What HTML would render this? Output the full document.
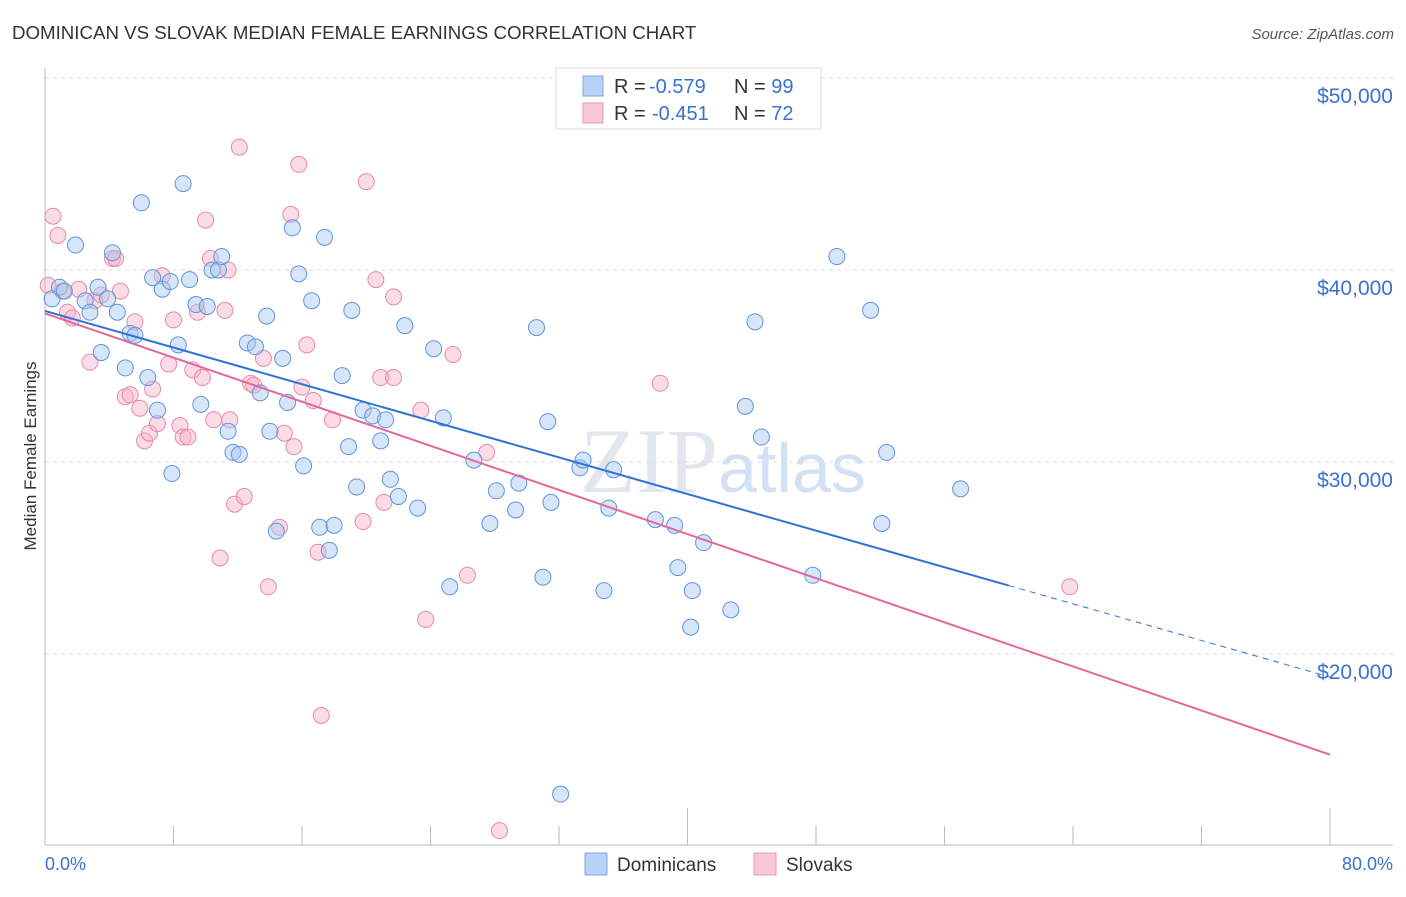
<!DOCTYPE html>
<html><head><meta charset="utf-8">
<style>
html,body{margin:0;padding:0;background:#fff;}
body{width:1406px;height:892px;overflow:hidden;font-family:"Liberation Sans",sans-serif;}
</style></head>
<body>
<svg id="chart" width="1406" height="892" xmlns="http://www.w3.org/2000/svg">
<text x="12" y="39" font-size="18.7" fill="#333">DOMINICAN VS SLOVAK MEDIAN FEMALE EARNINGS CORRELATION CHART</text>
<text x="1394" y="39" font-size="15" fill="#555" font-style="italic" text-anchor="end">Source: ZipAtlas.com</text>
<text x="718" y="492" font-size="92" fill="#e2e7ee" font-family="Liberation Serif,serif" text-anchor="end">ZIP</text>
<text x="718" y="492" font-size="70" fill="#d3e1f4">atlas</text>
<g id="grid"></g>
<g id="axes"></g>
<g id="pts"></g>
<g id="lines"></g>
<text x="36" y="456" font-size="17" fill="#333" text-anchor="middle" transform="rotate(-90 36 456)">Median Female Earnings</text>
<text x="45" y="870" font-size="18" fill="#3a70d0">0.0%</text>
<text x="1393" y="870" font-size="18" fill="#3a70d0" text-anchor="end">80.0%</text>
<g>
<rect x="556" y="68" width="265" height="61" fill="#fff" stroke="#ddd"/>
<rect x="583" y="76" width="20" height="20" fill="#b8d2f4" stroke="#7aa8e4"/>
<rect x="583" y="103" width="20" height="20" fill="#f9c6d6" stroke="#ec9ab6"/>
<text x="614" y="93" font-size="20" fill="#333">R = <tspan x="649" fill="#3a70d0">-0.579</tspan><tspan x="734">N = </tspan><tspan fill="#3a70d0">99</tspan></text>
<text x="614" y="120" font-size="20" fill="#333">R = <tspan x="652" fill="#3a70d0">-0.451</tspan><tspan x="734">N = </tspan><tspan fill="#3a70d0">72</tspan></text>
</g>
<g>
<rect x="585" y="853" width="22" height="22" fill="#b8d2f4" stroke="#7aa8e4"/>
<text x="617" y="871" font-size="19" fill="#333">Dominicans</text>
<rect x="754" y="853" width="22" height="22" fill="#f9c6d6" stroke="#ec9ab6"/>
<text x="786" y="871" font-size="19" fill="#333">Slovaks</text>
</g>
</svg>
<script>
const yTicks=[20000,30000,40000,50000];
const yTickLabels=["$20,000","$30,000","$40,000","$50,000"];
const xTicks=[0,8,16,24,32,40,48,56,64,72,80];
const blueX=[0.44,0.9,1.2,1.9,2.5,2.8,3.3,3.5,3.9,4.2,4.5,5.0,5.3,5.6,6.0,6.4,6.7,7.0,7.3,7.8,7.9,8.3,8.6,9.0,9.4,9.7,10.1,10.4,10.8,11.0,11.4,11.7,12.1,12.6,13.1,13.4,13.8,14.0,14.4,14.8,15.1,15.4,15.8,16.1,16.6,17.1,17.4,17.7,18.0,18.5,18.9,19.1,19.4,19.8,20.4,20.9,21.2,21.5,22.0,22.4,23.2,24.2,24.8,25.2,26.7,27.7,28.1,29.3,29.5,30.6,31.0,31.3,31.5,32.1,33.3,33.5,34.8,35.1,35.4,38.0,39.2,39.4,40.2,40.3,41.0,42.7,43.6,44.2,44.6,47.8,49.3,51.4,52.1,52.4,57.0];
const blueY=[38.5,39.1,38.9,41.3,38.4,37.8,39.1,35.7,38.5,40.9,37.8,34.9,36.7,36.6,43.5,34.4,39.6,32.7,39.0,39.4,29.4,36.1,44.5,39.5,38.2,33.0,38.1,40.0,40.0,40.7,31.6,30.5,30.4,36.2,36.0,33.6,37.6,31.6,26.4,35.4,33.1,42.2,39.8,29.8,38.4,26.6,41.7,25.4,26.7,34.5,30.8,37.9,28.7,32.7,32.4,31.1,32.2,29.1,28.2,37.1,27.6,35.9,32.3,23.5,30.1,26.8,28.5,27.5,28.9,37.0,24.0,32.1,27.9,12.7,29.7,30.1,23.3,27.6,29.6,27.0,26.7,24.5,21.4,23.3,25.8,22.3,32.9,37.3,31.3,24.1,40.7,37.9,26.8,30.5,28.6];
const pinkX=[0.2,0.5,0.8,1.1,1.4,1.7,2.1,2.8,3.1,3.5,4.2,4.4,4.7,5.0,5.3,5.6,5.9,6.2,6.5,6.7,7.0,7.3,7.7,8.0,8.4,8.6,8.9,9.2,9.5,9.8,10.0,10.3,10.5,10.9,11.2,11.4,11.5,11.8,12.1,12.4,12.8,13.0,13.6,13.9,14.6,14.9,15.3,15.5,15.8,16.0,16.3,16.7,17.0,17.2,17.9,19.8,20.0,20.6,20.9,21.1,21.7,21.7,23.4,23.7,25.4,26.3,27.5,28.3,38.3,63.8];
const pinkY=[39.2,42.8,41.8,38.9,37.8,37.5,39.0,35.2,38.4,38.7,40.6,40.6,38.9,33.4,33.5,37.3,32.8,31.1,31.5,33.8,32.0,39.7,35.1,37.4,31.9,31.3,31.3,34.8,37.8,34.4,42.6,40.6,32.2,25.0,37.9,40.0,32.2,27.8,46.4,28.2,34.1,34.0,35.4,23.5,26.6,31.5,42.9,30.8,45.5,33.9,36.1,33.2,25.3,16.8,32.2,26.9,44.6,39.5,34.4,27.9,34.4,38.6,32.7,21.8,35.6,24.1,30.5,10.8,34.1,23.5];
const NS="http://www.w3.org/2000/svg";
const xs=v=>45+v/80*1285;
const ys=v=>462-(v-30000)*0.0192;
function mk(tag,at,parent){const e=document.createElementNS(NS,tag);for(const k in at)e.setAttribute(k,at[k]);document.getElementById(parent).appendChild(e);return e;}
yTicks.forEach((t,i)=>{
  const g=mk('line',{x1:45,x2:1393,y1:ys(t),y2:ys(t),stroke:'#ddd','stroke-dasharray':'4,4'},'grid');
  
  
  const l=mk('text',{x:1393,y:ys(t)+25,'font-size':21,fill:'#3a70d0','text-anchor':'end'},'grid');
  l.textContent=yTickLabels[i];
  
  
});
const ya=mk('line',{x1:45,x2:45,y1:68,y2:845,stroke:'#bbb'},'axes');


const xa=mk('line',{x1:45,x2:1393,y1:845,y2:845,stroke:'#bbb'},'axes');


xTicks.forEach((t,i)=>{
  if(i===0)return;
  const tk=mk('line',{x1:xs(t),x2:xs(t),y1:(i%5===0?808:826),y2:845,stroke:'#bbb'},'axes');
  
  
});
function pts(X,Y,fill,stroke,name){
  X.forEach((x,i)=>{
    const c=mk('circle',{cx:xs(x),cy:ys(Y[i]*1000),r:8,fill:fill,'fill-opacity':0.45,stroke:stroke,'stroke-width':1},'pts');
    
    
  });
}
pts(pinkX,pinkY,'#f6b2c8','#e68aaa','slovak-point');
pts(blueX,blueY,'#a6c6f0','#5f95dc','dominican-point');
function fit(X,Y){const n=X.length;let mx=0,my=0;X.forEach((x,i)=>{mx+=x;my+=Y[i];});mx/=n;my/=n;let sxy=0,sxx=0;X.forEach((x,i)=>{sxy+=(x-mx)*(Y[i]-my);sxx+=(x-mx)*(x-mx);});const b=sxy/sxx;return[my-b*mx,b];}
const [ba,bb]=fit(blueX,blueY);
const [pa,pb]=fit(pinkX,pinkY);
const bl=mk('line',{x1:xs(0),y1:ys((ba)*1000),x2:xs(60),y2:ys((ba+bb*60)*1000),stroke:'#2f72d6','stroke-width':2},'lines');


const bd=mk('line',{x1:xs(60),y1:ys((ba+bb*60)*1000),x2:xs(80),y2:ys((ba+bb*80)*1000),stroke:'#2f72d6','stroke-width':1,'stroke-dasharray':'6,5'},'lines');


const pl=mk('line',{x1:xs(0),y1:ys(pa*1000),x2:xs(80),y2:ys((pa+pb*80)*1000),stroke:'#e4689a','stroke-width':2},'lines');


</script>
</body></html>
